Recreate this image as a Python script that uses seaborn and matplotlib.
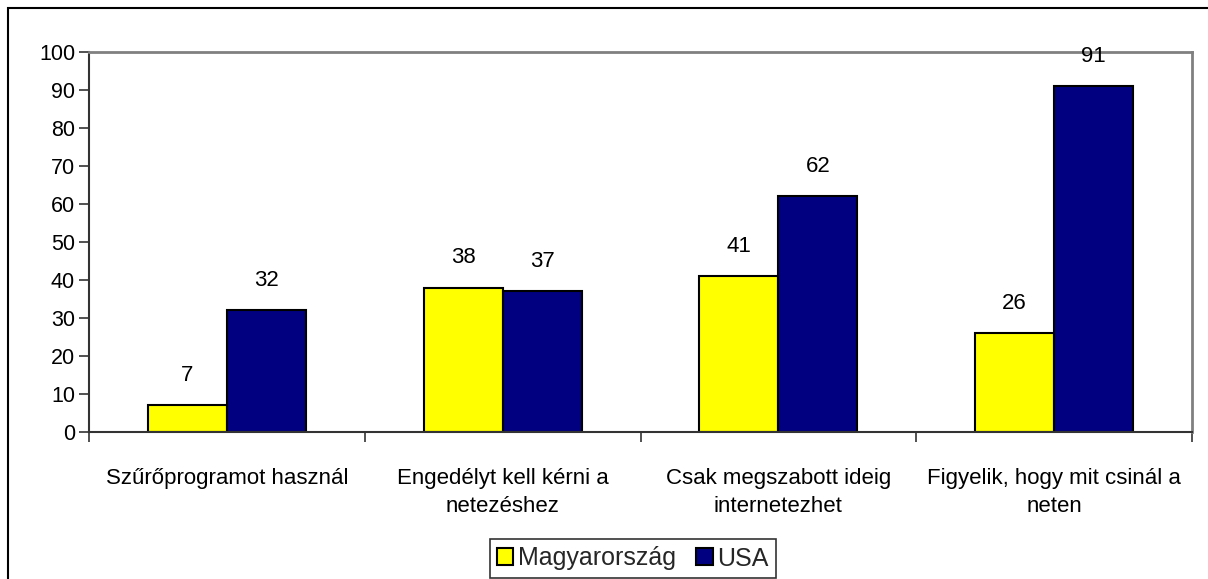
import numpy as np
import pandas as pd
import matplotlib
matplotlib.use("Agg")
import matplotlib.pyplot as plt
import matplotlib.patches as mpatches
import seaborn as sns

# adatok
categories = ["Szűrőprogramot használ", "Engedélyt kell kérni a\nnetezéshez",
              "Csak megszabott ideig\ninternetezhet", "Figyelik, hogy mit csinál a\nneten"]
hungary = [7, 38, 41, 26]
usa = [32, 37, 62, 91]
series_names = ["Magyarország", "USA"]
colors = ["#FFFF00", "#000080"]

df = pd.DataFrame({
    "cat": categories * 2,
    "val": hungary + usa,
    "country": [series_names[0]] * 4 + [series_names[1]] * 4,
})

sns.set_style("white")
plt.rcParams['font.family'] = ['Liberation Sans', 'DejaVu Sans']
fs = 16

fig = plt.figure(figsize=(12.08, 5.79), dpi=100)
ax = fig.add_axes([89/1208, 1-432/579, (1192-89)/1208, (432-52)/579])

sns.barplot(data=df, x="cat", y="val", hue="country", palette=colors,
            width=0.573, edgecolor="black", linewidth=1.5, ax=ax, saturation=1)

# feliratok az oszlopok fölött
for cont in ax.containers:
    ax.bar_label(cont, fmt="%d", padding=14, fontsize=fs, color="black")

ax.set_ylim(0, 100)
ax.set_xlim(-0.5, 3.5)
ax.set_yticks(np.arange(0, 101, 10))
ax.set_xlabel("")
ax.set_ylabel("")
ax.tick_params(axis="y", labelsize=15.5, labelcolor="black", length=7, width=1.2,
               color="#333333", direction="out", left=True, pad=3)
ax.tick_params(axis="x", which="major", labelsize=fs, labelcolor="black", length=0, pad=26)
for t in ax.get_xticklabels():
    t.set_linespacing(1.45)
ax.set_xticks(np.arange(-0.5, 3.6, 1), minor=True)
ax.tick_params(axis="x", which="minor", length=7, width=1.2, color="#333333", direction="out", bottom=True)

for s in ["left", "bottom"]:
    ax.spines[s].set_color("#333333")
    ax.spines[s].set_linewidth(1.5)
for s in ["top", "right"]:
    ax.spines[s].set_color("#808080")
    ax.spines[s].set_linewidth(2)

ax.get_legend().remove()
handles = [mpatches.Patch(facecolor=c, edgecolor="black", linewidth=1.5) for c in colors]
leg = fig.legend(handles, series_names, loc="upper center", bbox_to_anchor=(633/1208, 1-539/579),
                 ncol=2, fontsize=18, frameon=True, fancybox=False, edgecolor="black",
                 handlelength=0.65, handleheight=0.65, handletextpad=0.2, columnspacing=0.8,
                 borderpad=0.3, borderaxespad=0)
leg.get_frame().set_linewidth(1.2)

# külső keret
fig.patches.append(mpatches.Rectangle((8/1208, -0.1), 1.2, 1-8/579+0.1, transform=fig.transFigure,
                                      fill=False, edgecolor="black", linewidth=1.5))

fig.savefig("out.png", dpi=100)
